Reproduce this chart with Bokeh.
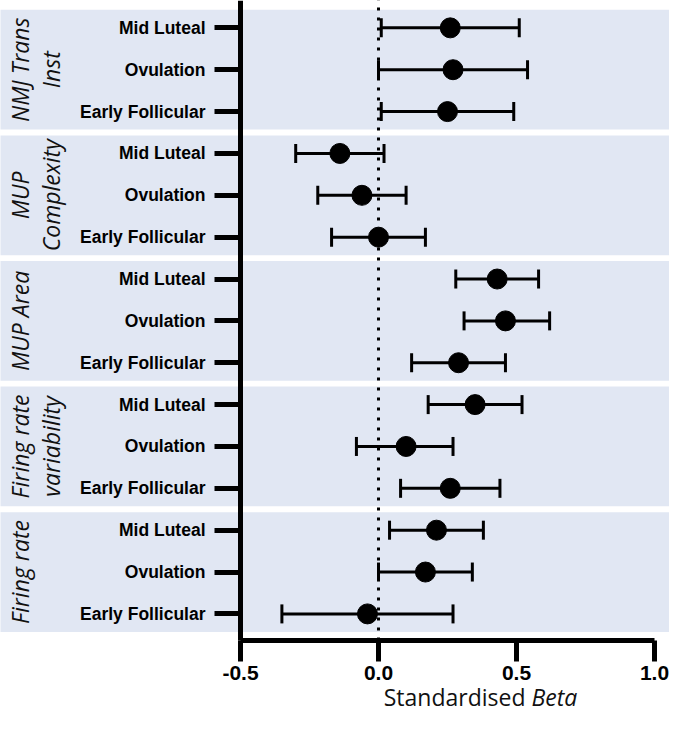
import math
from bokeh.plotting import figure
from bokeh.models import ColumnDataSource, FixedTicker, Whisker, TeeHead
from bokeh.core.properties import value
from bokeh.embed import file_html
from bokeh.resources import INLINE

# ---------------- data ----------------
groups = ["NMJ Trans\nInst", "MUP\nComplexity", "MUP Area", "Firing rate\nvariability", "Firing rate"]
phases = ["Mid Luteal", "Ovulation", "Early Follicular"]

beta    = [0.26, 0.27, 0.25,   -0.14, -0.06, 0.00,   0.43, 0.46, 0.29,   0.35, 0.10, 0.26,   0.21, 0.17, -0.04]
ci_low  = [0.01, 0.00, 0.01,   -0.30, -0.22, -0.17,  0.28, 0.31, 0.12,   0.18, -0.08, 0.08,  0.04, 0.00, -0.35]
ci_high = [0.51, 0.54, 0.49,    0.02, 0.10, 0.17,    0.58, 0.62, 0.46,   0.52, 0.27, 0.44,   0.38, 0.34, 0.27]

x_ticks = [-0.5, 0.0, 0.5, 1.0]
x_tick_labels = ["-0.5", "0.0", "0.5", "1.0"]
x_axis_title = "Standardised"
x_axis_title_italic = "Beta"

# ---------------- layout constants (pixels) ----------------
W, H = 669, 714
PX_AXIS = 240               # pixel position of x = -0.5
PX_PER_UNIT = 276.0
ROW_PX = 41.86
ROW0_PX = 613.4             # pixel position (from top) of the lowest row
XAXIS_PX = 640              # pixel position (from top) of the x axis line
TITLE_MID_PX = 696
TITLE_SPLIT_PX = 525        # where "Standardised" ends

x_start = -0.5 - PX_AXIS / PX_PER_UNIT
x_end = x_start + W / PX_PER_UNIT
y_start = -(H - ROW0_PX) / ROW_PX
y_end = y_start + H / ROW_PX

def px_to_x(px):
    return x_start + px / PX_PER_UNIT

def px_to_y(py):
    return y_start + (H - py) / ROW_PX

x_axis_y = px_to_y(XAXIS_PX)

n_rows = len(groups) * len(phases)
rows = [n_rows - 1 - i for i in range(n_rows)]
row_labels = [phases[i % len(phases)] for i in range(n_rows)]

src = ColumnDataSource(dict(y=rows, beta=beta, lo=ci_low, hi=ci_high))

p = figure(width=W, height=H, x_range=(x_start, x_end), y_range=(y_start, y_end),
           output_backend="svg", toolbar_location=None, min_border=0)
p.outline_line_color = None
p.grid.visible = False
p.background_fill_color = "white"
p.border_fill_color = "white"

# group bands
centers = [n_rows - 1 - (len(phases) * k + 1) for k in range(len(groups))]
HALF = 1.43
bands = p.quad(left=[x_start - 1] * len(groups), right=[x_end + 1] * len(groups),
               bottom=[c - HALF for c in centers], top=[c + HALF for c in centers],
               fill_color="#e1e7f3", line_color=None)
bands.level = "image"

# zero reference line (dotted)
p.segment(x0=[0], y0=[x_axis_y], x1=[0], y1=[y_end + 1], line_color="black",
          line_width=3, line_dash="3 7")

# error bars
wh = Whisker(base="y", lower="lo", upper="hi", source=src, dimension="width",
             line_color="black", line_width=3,
             upper_head=TeeHead(size=19, line_width=3, line_color="black"),
             lower_head=TeeHead(size=19, line_width=3, line_color="black"))
wh.level = "annotation"
p.add_layout(wh)

# points
p.scatter(x="beta", y="y", source=src, size=20, fill_color="black", line_color="black",
          level="overlay")

# group labels (rotated, italic)
l1 = [g.split("\n")[0] for g in groups]
l2 = [g.split("\n")[1] if "\n" in g else "" for g in groups]
for txt, px in ((l1, 19), (l2, 50)):
    p.text(x=[px_to_x(px)] * len(groups), y=centers, text=txt, angle=math.pi / 2,
           text_align="center", text_baseline="middle",
           text_font=value("Open Sans"), text_font_style="italic",
           text_font_size="23px", text_color="#111111")

# y axis (fixed at x = -0.5)
ya = p.yaxis[0]
ya.fixed_location = -0.5
ya.bounds = (x_axis_y, y_end + 1)
ya.ticker = FixedTicker(ticks=rows)
ya.major_label_overrides = {r: lbl for r, lbl in zip(rows, row_labels)}
ya.axis_line_width = 5
ya.axis_line_color = "black"
ya.major_tick_line_width = 5
ya.major_tick_line_color = "black"
ya.major_tick_out = 26
ya.major_tick_in = 0
ya.minor_tick_line_color = None
ya.major_label_standoff = 9
ya.major_label_text_font = "Liberation Sans"
ya.major_label_text_font_style = "bold"
ya.major_label_text_font_size = "17.5px"
ya.major_label_text_color = "black"

# x axis (fixed at its line position)
xa = p.xaxis[0]
xa.fixed_location = x_axis_y
xa.bounds = (x_ticks[0], x_ticks[-1])
xa.ticker = FixedTicker(ticks=x_ticks)
xa.major_label_overrides = {t: l for t, l in zip(x_ticks, x_tick_labels)}
xa.axis_line_width = 5
xa.axis_line_color = "black"
xa.major_tick_line_width = 5
xa.major_tick_line_color = "black"
xa.major_tick_out = 21
xa.major_tick_in = 0
xa.minor_tick_line_color = None
xa.major_label_standoff = 4
xa.major_label_text_font = "Liberation Sans"
xa.major_label_text_font_style = "bold"
xa.major_label_text_font_size = "21px"
xa.major_label_text_color = "black"

# axis title with italic part
ty = px_to_y(TITLE_MID_PX)
p.text(x=[px_to_x(TITLE_SPLIT_PX)], y=[ty], text=[x_axis_title], text_align="right",
       text_baseline="middle", text_font=value("Open Sans"),
       text_font_size="23px", text_color="#111111")
p.text(x=[px_to_x(TITLE_SPLIT_PX + 6)], y=[ty], text=[x_axis_title_italic], text_align="left",
       text_baseline="middle", text_font=value("Open Sans"),
       text_font_style="italic", text_font_size="23px", text_color="#111111")

open("out.html", "w").write(file_html(p, INLINE))
